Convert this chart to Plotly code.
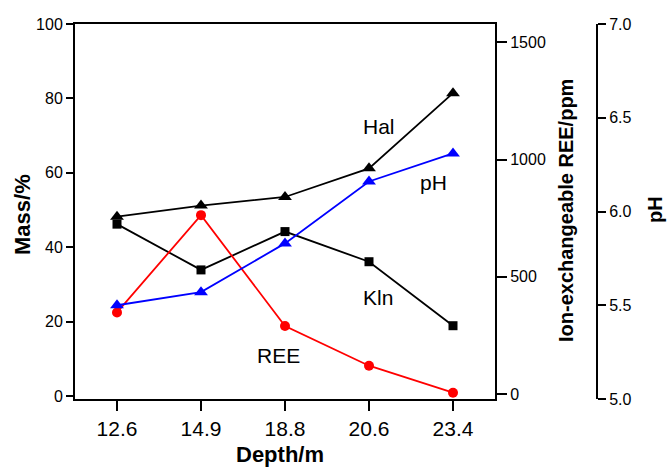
import plotly.graph_objects as go

depth = ["12.6", "14.9", "18.8", "20.6", "23.4"]
hal = [48.2, 51.2, 53.5, 61.2, 81.4]
kln = [46.2, 33.9, 44.2, 36.1, 18.9]
ree = [348, 763, 290, 121, 6]
ph = [5.50, 5.57, 5.83, 6.16, 6.31]

W, H = 668, 468
L, R, T, B = 75, 71, 24, 69
PW = W - L - R
PH = H - T - B

def px(x):
    return (x - L) / PW

def py(y):
    return (H - B - y) / PH

FONT = "Liberation Sans, Arial, sans-serif"

fig = go.Figure()
fig.add_trace(go.Scatter(x=depth, y=kln, mode="lines+markers", name="Kln",
                         line=dict(color="black", width=1.8),
                         marker=dict(symbol="square", size=9, color="black"),
                         xaxis="x", yaxis="y"))
fig.add_trace(go.Scatter(x=depth, y=hal, mode="lines+markers", name="Hal",
                         line=dict(color="black", width=1.8),
                         marker=dict(symbol="triangle-up", size=12, color="black"),
                         xaxis="x", yaxis="y"))
fig.add_trace(go.Scatter(x=depth, y=ree, mode="lines+markers", name="REE",
                         line=dict(color="#ff0000", width=1.8),
                         marker=dict(symbol="circle", size=10, color="#ff0000"),
                         xaxis="x", yaxis="y2"))
fig.add_trace(go.Scatter(x=depth, y=ph, mode="lines+markers", name="pH",
                         line=dict(color="#0000ff", width=1.8),
                         marker=dict(symbol="triangle-up", size=12, color="#0000ff"),
                         xaxis="x", yaxis="y3"))

axis_common = dict(showline=True, linecolor="black", linewidth=2, ticks="outside",
                   tickcolor="black", tickwidth=2, showgrid=False, zeroline=False)

fig.update_layout(
    width=W, height=H,
    margin=dict(l=L, r=R, t=T, b=B, pad=0),
    paper_bgcolor="white", plot_bgcolor="white",
    showlegend=False,
    font=dict(family=FONT, color="black"),
    xaxis=dict(domain=[0, (495 - L) / PW], type="category", range=[-0.5, 4.5],
               mirror=True, ticklen=10, tickfont=dict(size=21), anchor="y",
               **axis_common),
    yaxis=dict(range=[-0.8, 100], dtick=20, tick0=0, mirror=True, ticklen=7,
               tickfont=dict(size=16), anchor="x", **axis_common),
    yaxis2=dict(range=[-21, 1578], dtick=500, tick0=0, overlaying="y", side="right",
                anchor="x", ticklen=10, tickfont=dict(size=16), **axis_common),
    yaxis3=dict(range=[5, 7], dtick=0.5, tick0=5, tickformat=".1f", overlaying="y",
                side="right", anchor="free", position=1.0, ticklen=8,
                tickfont=dict(size=16), **axis_common),
)

annos = [
    dict(text="<b>Mass/%</b>", x=px(22), y=py(215), textangle=-90, size=22),
    dict(text="<b>Depth/m</b>", x=px(279.5), y=py(454), textangle=0, size=22),
    dict(text="<b>Ion-exchangeable REE/ppm</b>", x=px(566), y=py(211), textangle=-90, size=20),
    dict(text="<b>pH</b>", x=px(655), y=py(210), textangle=-90, size=20),
    dict(text="Hal", x=px(379), y=py(126), textangle=0, size=21),
    dict(text="pH", x=px(433.5), y=py(182), textangle=0, size=21),
    dict(text="Kln", x=px(378), y=py(297), textangle=0, size=21),
    dict(text="REE", x=px(278), y=py(355.5), textangle=0, size=21),
]
for a in annos:
    fig.add_annotation(text=a["text"], x=a["x"], y=a["y"], xref="paper", yref="paper",
                       showarrow=False, textangle=a["textangle"],
                       xanchor="center", yanchor="middle",
                       font=dict(family=FONT, size=a["size"], color="black"))

fig.write_html("out.html")
